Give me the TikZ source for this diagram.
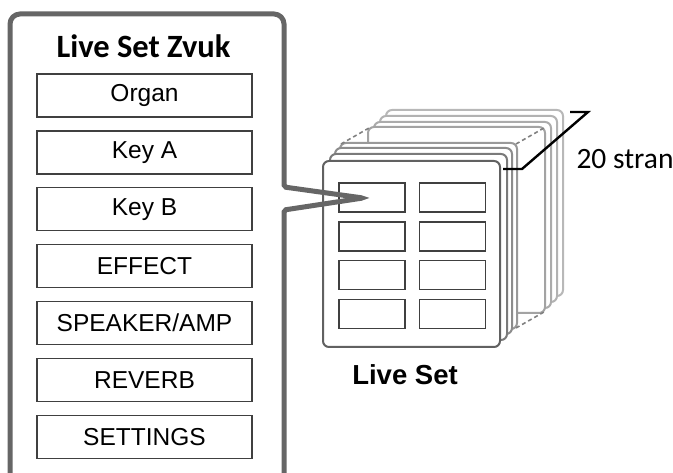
\documentclass[tikz,border=0pt]{standalone}
\usepackage{fontspec}
\setmainfont{Liberation Sans}
\newfontfamily\carlito{Carlito}
\usetikzlibrary{positioning}

\begin{document}
\begin{tikzpicture}[x=1pt, y=-1pt,
  slot/.style={rectangle, draw=black!75, line width=1.4pt, minimum width=215pt, minimum height=43pt, inner sep=0pt, font=\fontsize{24.5}{28}\selectfont},
  cell/.style={rectangle, draw=black!75, line width=1.4pt, minimum width=66pt, minimum height=29pt, inner sep=0pt},
  page/.style={rectangle, rounded corners=6pt, fill=white, line width=2pt, minimum width=177pt, minimum height=186pt, inner sep=0pt},
  callout/.style={draw=black!60, line width=5pt, rounded corners=10pt},
  gap/.style={dashed, dash pattern=on 4pt off 3pt, black!50, line width=1.6pt},
  node distance=12.5pt and 13pt]
  \useasboundingbox (0,0) rectangle (673,473);
  % page stack
  \foreach \dx/\dy/\shade [count=\i] in {63/51/28, 57/45/30, 51/39/33, 45/34/36, 17/18/40, 12/13/45, 7/7/52}
    \node[page, draw=black!\shade] (page\i) at (411.5+\dx,254-\dy) {};
  \draw[gap] ([shift={(2,2)}]page5.north west) -- ([shift={(2,2)}]page4.north west);
  \draw[gap] ([shift={(-2,2)}]page5.north east) -- ([shift={(-2,2)}]page4.north east);
  \draw[gap] ([shift={(-2,-2)}]page5.south east) -- ([shift={(-2,-2)}]page4.south east);
  \node[page, draw=black!62] (front) at (411.5,254) {};
  \node[cell] (c11) at (372,197.5) {};
  \node[cell, right=of c11] (c12) {};
  \node[cell, below=8.5pt of c11] (c21) {};
  \node[cell, right=of c21] (c22) {};
  \node[cell, below=8.5pt of c21] (c31) {};
  \node[cell, right=of c31] (c32) {};
  \node[cell, below=8.5pt of c31] (c41) {};
  \node[cell, right=of c41] (c42) {};
  \node[font=\bfseries\fontsize{27.5}{32}\selectfont, anchor=base] (liveset) at (405,385) {Live Set};
  % page count
  \coordinate (stackend) at (503,169);
  \coordinate (bracket) at (588,112);
  \draw[line width=2.4pt] (stackend) -- ++(19,0) -- (bracket) -- ++(-18,0);
  \node[font=\carlito\fontsize{29.5}{34}\selectfont, anchor=base west] (count) at (573,169) {20 stran};
  % sound list
  \node[font=\carlito\bfseries\fontsize{32.5}{38}\selectfont, anchor=base] (title) at (143.5,58) {Live Set Zvuk};
  \node[slot] (organ) at (144.5,95.5) {Organ};
  \node[slot, below=of organ] (keya) {Key A};
  \node[slot, below=of keya] (keyb) {Key B};
  \node[slot, below=of keyb] (effect) {EFFECT};
  \node[slot, below=of effect] (speaker) {SPEAKER/AMP};
  \node[slot, below=of speaker] (reverb) {REVERB};
  \node[slot, below=of reverb] (settings) {SETTINGS};
  \begin{scope}
    \clip (0,0) rectangle (673,473);
    \draw[callout] (10,490) -- (10,14) -- (284,14) -- (284,150) [rounded corners=2pt] -- (284,187) -- (363,198) -- (284,210) -- (284,490);
  \end{scope}
\end{tikzpicture}
\end{document}
